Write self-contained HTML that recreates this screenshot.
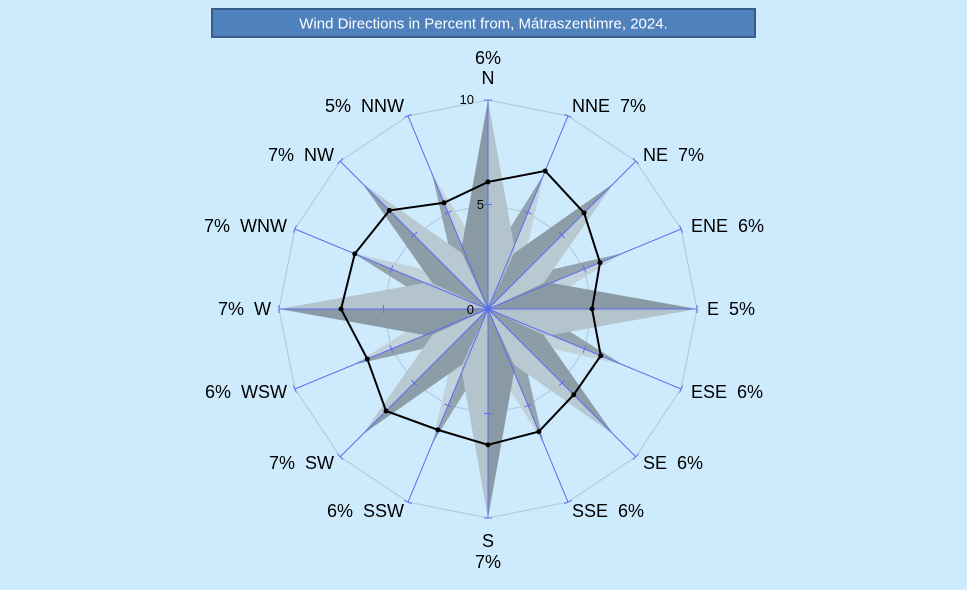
<!DOCTYPE html>
<html><head><meta charset="utf-8"><style>
body{margin:0;background:#cceeff;}
svg{display:block;font-family:"Liberation Sans",Arial,sans-serif;}
text{white-space:pre;}
</style></head><body>
<svg id="s" width="967" height="590" viewBox="0 0 967 590" xmlns="http://www.w3.org/2000/svg" xml:space="preserve">
<rect width="967" height="590" fill="#cdebfd"/>
<rect x="212" y="9" width="543" height="28" fill="#4f81bd" stroke="#385d8a" stroke-width="2"/>
<text x="483.5" y="28.5" fill="#fff" font-size="15" text-anchor="middle">Wind Directions in Percent from, Mátraszentimre, 2024.</text>
<g id="g"></g>
<g font-size="18" fill="#000">
<text x="488" y="64" text-anchor="middle">6%</text>
<text x="488" y="84" text-anchor="middle">N</text>
<text x="572" y="112">NNE  7%</text>
<text x="643" y="161">NE  7%</text>
<text x="691" y="232">ENE  6%</text>
<text x="707" y="315">E  5%</text>
<text x="691" y="398">ESE  6%</text>
<text x="643" y="469">SE  6%</text>
<text x="572" y="517">SSE  6%</text>
<text x="488" y="547" text-anchor="middle">S</text>
<text x="488" y="568" text-anchor="middle">7%</text>
<text x="404" y="517" text-anchor="end">6%  SSW</text>
<text x="334" y="469" text-anchor="end">7%  SW</text>
<text x="287" y="398" text-anchor="end">6%  WSW</text>
<text x="271" y="315" text-anchor="end">7%  W</text>
<text x="287" y="232" text-anchor="end">7%  WNW</text>
<text x="334" y="161" text-anchor="end">7%  NW</text>
<text x="404" y="112" text-anchor="end">5%  NNW</text>
</g>
<g font-size="13" fill="#000">
<text x="474" y="104" text-anchor="end">10</text>
<text x="484" y="209" text-anchor="end">5</text>
<text x="474" y="314" text-anchor="end">0</text>
</g>
</svg>
<script>
var cx=488,cy=309,u=20.9,NS="http://www.w3.org/2000/svg",g=document.getElementById('g');
function P(a,r){var t=a*Math.PI/180;return [cx+r*Math.sin(t),cy-r*Math.cos(t)];}
function add(tag,at){var e=document.createElementNS(NS,tag);for(var k in at)e.setAttribute(k,at[k]);g.appendChild(e);return e;}
[5,10].forEach(function(v){var pts=[];for(var i=0;i<16;i++){pts.push(P(i*22.5,v*u).join(','));}
add('polygon',{points:pts.join(' '),fill:'none',stroke:'#b0c4d4','stroke-width':1});});
function kite(a,L,w,sr,dark,light){
 var tip=P(a,L),c=[cx,cy],t=a*Math.PI/180;
 var base=P(a,sr);var px=Math.cos(t),py=Math.sin(t);
 var left=[base[0]-w*px,base[1]-w*py],right=[base[0]+w*px,base[1]+w*py];
 add('polygon',{points:[c,left,tip].map(function(p){return p.join(',')}).join(' '),fill:dark});
 add('polygon',{points:[c,right,tip].map(function(p){return p.join(',')}).join(' '),fill:light});
}
for(var i=1;i<16;i+=2)kite(i*22.5,7*u,17,45,'#94a4ae','#c2d2da');
for(var i=2;i<16;i+=4)kite(i*22.5,8.5*u,22,52,'#8d9da7','#b9c9d1');
for(var i=0;i<16;i+=4)kite(i*22.5,10*u,27,58,'#8a9aa4','#b4c4cc');
for(var i=0;i<16;i++){var a=i*22.5,e=P(a,10*u);
 add('line',{x1:cx,y1:cy,x2:e[0],y2:e[1],stroke:'#5a6cf0','stroke-width':1});
 [5,10].forEach(function(v){var b=P(a,v*u),t=a*Math.PI/180,px=Math.cos(t)*4,py=Math.sin(t)*4;
 add('line',{x1:b[0]-px,y1:b[1]-py,x2:b[0]+px,y2:b[1]+py,stroke:'#5a6cf0','stroke-width':1});});}
var d=[6.08,7.15,6.5,5.8,4.98,5.84,5.8,6.35,6.5,6.26,6.9,6.25,7.03,6.9,6.67,5.5],pts=[];
for(var i=0;i<16;i++)pts.push(P(i*22.5,d[i]*u));
add('polygon',{points:pts.map(function(p){return p.join(',')}).join(' '),fill:'none',stroke:'#000','stroke-width':2});
pts.forEach(function(p){add('circle',{cx:p[0],cy:p[1],r:2.5,fill:'#000'});});
</script>
</body></html>
